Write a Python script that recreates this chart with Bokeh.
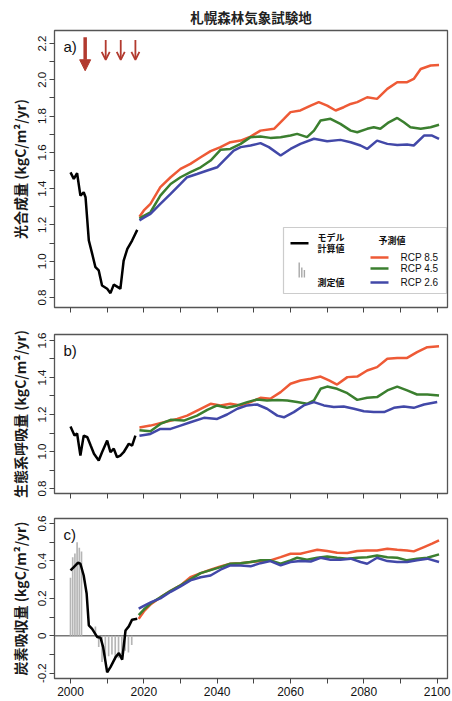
from bokeh.plotting import figure
from bokeh.layouts import column
from bokeh.models import (Range1d, FixedTicker, PrintfTickFormatter, Span, Label,
                          BoxAnnotation, Arrow, NormalHead, OpenHead)
from bokeh.embed import file_html
from bokeh.resources import INLINE

TITLE = "札幌森林気象試験地"
YLAB_A = "光合成量 (kgC/m²/yr)"
YLAB_B = "生態系呼吸量 (kgC/m²/yr)"
YLAB_C = "炭素吸収量 (kgC/m²/yr)"

X_TICKS = [2000, 2020, 2040, 2060, 2080, 2100]
X_MINOR = [2010, 2030, 2050, 2070, 2090]
X_ALL = [2000, 2010, 2020, 2030, 2040, 2050, 2060, 2070, 2080, 2090, 2100]

# ---- a) GPP -------------------------------------------------------------
gpp_model_x = [2000.0, 2000.9, 2001.8, 2002.7, 2003.6, 2004.1, 2005.0, 2005.9, 2006.8, 2007.7,
               2008.6, 2010.0, 2010.9, 2011.8, 2012.7, 2013.6, 2014.5, 2015.5, 2016.8, 2018.2]
gpp_model = [1.49, 1.454, 1.485, 1.362, 1.38, 1.353, 1.114, 1.042, 0.967, 0.949,
             0.866, 0.848, 0.824, 0.871, 0.86, 0.848, 1.004, 1.068, 1.114, 1.173]

gpp85_x = [2018.8, 2020.0, 2021.8, 2024.5, 2027.3, 2030.0, 2032.7, 2035.5, 2038.2, 2040.9, 2043.6,
           2046.4, 2049.1, 2051.8, 2055.5, 2058.2, 2060.0, 2062.7, 2065.5, 2067.7, 2070.0, 2072.3,
           2074.5, 2076.4, 2078.2, 2080.9, 2083.6, 2086.4, 2089.1, 2091.8, 2093.6, 2095.5, 2098.2, 2100.5]
gpp85 = [1.245, 1.28, 1.316, 1.408, 1.463, 1.509, 1.537, 1.573, 1.607, 1.629, 1.656,
         1.665, 1.687, 1.720, 1.730, 1.785, 1.822, 1.831, 1.858, 1.877, 1.858, 1.831,
         1.849, 1.867, 1.877, 1.904, 1.895, 1.950, 1.987, 1.987, 2.005, 2.060, 2.079, 2.082]

gpp45_x = [2018.8, 2020.0, 2021.8, 2024.5, 2027.3, 2030.0, 2032.7, 2035.5, 2038.2, 2040.9, 2043.6,
           2046.4, 2049.1, 2051.8, 2054.5, 2057.3, 2060.0, 2061.8, 2064.5, 2066.4, 2068.2, 2070.9,
           2073.6, 2076.4, 2078.2, 2080.9, 2082.7, 2084.5, 2086.8, 2089.1, 2090.9, 2092.7, 2095.5,
           2098.2, 2100.5]
gpp45 = [1.235, 1.25, 1.270, 1.362, 1.426, 1.463, 1.491, 1.518, 1.555, 1.614, 1.619,
         1.647, 1.684, 1.687, 1.680, 1.684, 1.693, 1.702, 1.684, 1.720, 1.776, 1.785,
         1.757, 1.720, 1.711, 1.730, 1.739, 1.730, 1.766, 1.790, 1.766, 1.739, 1.730,
         1.739, 1.752]

gpp26_x = [2018.8, 2020.0, 2021.8, 2024.5, 2027.3, 2030.0, 2031.8, 2034.5, 2037.3, 2040.0, 2041.8,
           2044.5, 2046.4, 2049.1, 2051.8, 2054.1, 2057.3, 2060.0, 2062.7, 2066.4, 2070.0, 2073.6,
           2076.4, 2079.1, 2080.9, 2083.6, 2086.4, 2089.1, 2091.8, 2093.6, 2096.4, 2098.6, 2100.5]
gpp26 = [1.225, 1.24, 1.261, 1.316, 1.371, 1.426, 1.463, 1.481, 1.500, 1.518, 1.555,
         1.610, 1.629, 1.638, 1.651, 1.629, 1.583, 1.619, 1.647, 1.675, 1.662, 1.669,
         1.656, 1.638, 1.619, 1.665, 1.647, 1.641, 1.643, 1.638, 1.693, 1.693, 1.675]

# ---- b) ecosystem respiration -------------------------------------------
re_model_x = [2000.0, 2001.1, 2001.8, 2002.7, 2003.6, 2004.6, 2005.5, 2006.4, 2007.7, 2008.6,
              2010.0, 2010.9, 2011.8, 2012.7, 2013.6, 2014.5, 2015.9, 2016.8, 2017.7]
re_model = [1.135, 1.086, 1.097, 0.978, 1.086, 1.077, 1.032, 0.988, 0.951, 0.996,
            1.059, 0.996, 1.015, 0.969, 0.978, 0.996, 1.042, 1.032, 1.086]

re85_x = [2018.8, 2021.8, 2025.5, 2029.1, 2031.8, 2035.5, 2038.2, 2040.9, 2043.6, 2046.4, 2049.1,
          2051.8, 2054.5, 2057.3, 2060.0, 2062.7, 2065.5, 2068.2, 2070.5, 2072.7, 2075.5, 2078.2,
          2080.9, 2083.6, 2086.4, 2089.1, 2091.8, 2094.5, 2097.3, 2100.5]
re85 = [1.13, 1.140, 1.158, 1.176, 1.194, 1.231, 1.258, 1.249, 1.258, 1.249, 1.267,
        1.290, 1.285, 1.321, 1.366, 1.384, 1.393, 1.405, 1.384, 1.362, 1.402, 1.405,
        1.438, 1.456, 1.501, 1.506, 1.506, 1.537, 1.564, 1.569]

re45_x = [2018.8, 2021.8, 2024.5, 2027.3, 2030.9, 2034.5, 2037.3, 2040.0, 2042.7, 2045.5, 2048.2,
          2050.9, 2053.6, 2056.4, 2059.1, 2061.8, 2064.5, 2066.4, 2068.2, 2070.0, 2072.7, 2075.5,
          2078.2, 2080.9, 2083.6, 2086.4, 2089.1, 2091.8, 2094.5, 2097.3, 2100.5]
re45 = [1.115, 1.110, 1.149, 1.171, 1.167, 1.194, 1.225, 1.249, 1.236, 1.249, 1.267,
        1.281, 1.276, 1.279, 1.276, 1.267, 1.258, 1.276, 1.339, 1.351, 1.339, 1.315,
        1.279, 1.290, 1.294, 1.330, 1.351, 1.330, 1.308, 1.308, 1.303]

re26_x = [2018.8, 2021.8, 2024.5, 2027.3, 2030.0, 2032.7, 2036.4, 2040.0, 2042.7, 2045.5, 2048.2,
          2050.9, 2053.6, 2056.4, 2058.2, 2060.9, 2063.6, 2066.4, 2069.1, 2071.8, 2074.5, 2077.3,
          2080.0, 2082.7, 2085.5, 2088.2, 2090.9, 2093.6, 2096.4, 2100.0]
re26 = [1.085, 1.095, 1.122, 1.122, 1.140, 1.158, 1.182, 1.176, 1.200, 1.231, 1.249,
        1.254, 1.231, 1.194, 1.185, 1.213, 1.249, 1.267, 1.249, 1.240, 1.243, 1.231,
        1.218, 1.213, 1.213, 1.236, 1.243, 1.236, 1.254, 1.267]

# ---- c) net carbon uptake -----------------------------------------------
nep_obs_x = [2000.0, 2000.6, 2001.2, 2001.8, 2002.4, 2003.0, 2006.8, 2007.7, 2008.6, 2009.5,
             2010.4, 2011.3, 2012.2, 2013.1, 2014.0, 2014.9, 2015.8, 2016.7]
nep_obs = [0.31, 0.42, 0.44, 0.50, 0.47, 0.45, 0.05, -0.06, -0.14, -0.12,
           -0.11, -0.10, -0.13, -0.12, -0.10, -0.08, -0.09, -0.05]

nep_model_x = [2000.0, 2000.9, 2002.0, 2002.7, 2003.6, 2004.4, 2005.0, 2005.9, 2007.3, 2008.2,
               2008.9, 2010.0, 2010.9, 2012.3, 2013.2, 2014.1, 2015.0, 2015.9, 2016.8, 2018.2]
nep_model = [0.349, 0.367, 0.39, 0.385, 0.322, 0.226, 0.055, 0.037, -0.007, -0.011,
             -0.061, -0.195, -0.168, -0.114, -0.093, -0.128, 0.028, 0.05, 0.086, 0.091]

nep85_x = [2018.6, 2020.0, 2022.0, 2024.5, 2027.3, 2030.0, 2032.7, 2035.5, 2038.2, 2040.9, 2043.6,
           2046.4, 2049.1, 2051.8, 2054.5, 2057.3, 2060.0, 2062.7, 2064.5, 2067.3, 2070.0, 2072.7,
           2075.5, 2078.2, 2080.9, 2083.6, 2086.4, 2089.1, 2091.8, 2093.6, 2096.4, 2098.6, 2100.5]
nep85 = [0.09, 0.13, 0.17, 0.205, 0.24, 0.269, 0.313, 0.335, 0.353, 0.371, 0.385,
         0.388, 0.394, 0.399, 0.403, 0.420, 0.438, 0.438, 0.447, 0.460, 0.453, 0.444,
         0.442, 0.453, 0.456, 0.456, 0.465, 0.460, 0.456, 0.451, 0.474, 0.492, 0.510]

nep45_x = [2018.6, 2020.0, 2022.0, 2024.5, 2027.3, 2030.0, 2035.5, 2040.9, 2043.6, 2046.4, 2049.1,
           2051.8, 2054.5, 2057.3, 2060.0, 2061.8, 2064.5, 2067.3, 2070.0, 2072.7, 2075.5, 2078.2,
           2080.9, 2083.6, 2086.4, 2089.1, 2091.8, 2094.5, 2097.3, 2100.5]
nep45 = [0.11, 0.14, 0.175, 0.205, 0.24, 0.269, 0.335, 0.367, 0.385, 0.388, 0.394,
         0.403, 0.403, 0.385, 0.403, 0.417, 0.406, 0.417, 0.424, 0.417, 0.412, 0.417,
         0.420, 0.429, 0.420, 0.417, 0.403, 0.412, 0.417, 0.435]

nep26_x = [2018.6, 2020.0, 2022.0, 2024.5, 2027.3, 2030.0, 2032.7, 2035.5, 2038.2, 2040.9, 2043.6,
           2046.4, 2049.1, 2051.8, 2054.5, 2057.3, 2060.0, 2062.7, 2065.5, 2068.2, 2070.9, 2073.6,
           2076.4, 2079.1, 2080.9, 2083.6, 2086.4, 2089.1, 2091.8, 2094.5, 2097.3, 2100.5]
nep26 = [0.145, 0.16, 0.18, 0.20, 0.235, 0.264, 0.296, 0.313, 0.322, 0.353, 0.376,
         0.376, 0.371, 0.388, 0.399, 0.376, 0.394, 0.399, 0.397, 0.417, 0.406, 0.406,
         0.412, 0.394, 0.385, 0.417, 0.399, 0.394, 0.394, 0.403, 0.412, 0.394]

# disturbance arrows (years)
big_arrow_years = [2004.0]
small_arrow_years = [2009.6, 2013.7, 2017.7]

LEGEND_SCEN = ["RCP 8.5", "RCP 4.5", "RCP 2.6"]

C85 = "#ee5a36"
C45 = "#3b7f2f"
C26 = "#4248a8"
CARROW = "#b23a2f"
CBAR = "#b5b5b5"
FRAME = "#555555"

FW = 393
PXY = 3.667
XR = (2000 - 16 / PXY, 2000 - 16 / PXY + FW / PXY)
JP = "Noto Sans CJK JP"
LAT = "Liberation Sans"


def make_fig(fh, yr, top, bottom, yticks, yminor, ylabel, xlabels, fmt_over=None, title=None):
    kw = {}
    if title:
        kw["title"] = title
    p = figure(frame_width=FW, frame_height=fh, x_range=Range1d(*XR), y_range=Range1d(*yr),
               output_backend="svg", toolbar_location=None,
               min_border_left=54, min_border_right=5,
               min_border_top=top, min_border_bottom=bottom, **kw)
    p.xgrid.visible = False
    p.ygrid.visible = False
    p.outline_line_color = FRAME
    p.outline_line_width = 1.3
    if xlabels:
        p.xaxis.ticker = FixedTicker(ticks=X_TICKS, minor_ticks=X_MINOR)
    else:
        p.xaxis.ticker = FixedTicker(ticks=[], minor_ticks=X_ALL)
    p.yaxis.ticker = FixedTicker(ticks=yticks, minor_ticks=yminor)
    for ax in (p.xaxis[0], p.yaxis[0]):
        ax.axis_line_color = None
        ax.major_tick_line_color = "#444444"
        ax.minor_tick_line_color = "#444444"
        ax.major_tick_out = 5
        ax.major_tick_in = 0
        ax.minor_tick_out = 5
        ax.minor_tick_in = 0
        ax.major_label_text_font = LAT
        ax.major_label_text_color = "#111111"
    p.xaxis.major_label_text_font_size = "12px"
    p.yaxis.major_label_text_font_size = "11.5px"
    p.xaxis.major_label_standoff = 3
    p.yaxis.major_label_orientation = "vertical"
    p.yaxis.major_label_standoff = 3
    p.yaxis.formatter = PrintfTickFormatter(format="%.1f")
    if fmt_over:
        p.yaxis.major_label_overrides = fmt_over
    p.yaxis.axis_label = ylabel
    p.yaxis.axis_label_text_font = JP
    p.yaxis.axis_label_text_font_size = "14px"
    p.yaxis.axis_label_text_font_style = "bold"
    p.yaxis.axis_label_text_color = "#1a1a1a"
    p.yaxis.axis_label_standoff = 6
    return p


def panel_letter(p, txt, yr):
    p.add_layout(Label(x=XR[0], y=yr[1], text=txt, x_offset=9, y_offset=-7,
                       text_baseline="top", text_font=LAT, text_font_size="15px",
                       text_color="#111111"))


# ---------------- a ----------------
YA = (0.7449, 2.272)
pa = make_fig(277, YA, 30, 13,
              [0.8, 1.0, 1.2, 1.4, 1.6, 1.8, 2.0, 2.2],
              [0.9, 1.1, 1.3, 1.5, 1.7, 1.9, 2.1], YLAB_A, False, title=TITLE)
pa.title.align = "center"
pa.title.text_font = JP
pa.title.text_font_size = "13.5px"
pa.title.text_font_style = "bold"
pa.title.text_color = "#222222"
pa.title.standoff = 7

pa.line(gpp85_x, gpp85, line_color=C85, line_width=2.5)
pa.line(gpp45_x, gpp45, line_color=C45, line_width=2.5)
pa.line(gpp26_x, gpp26, line_color=C26, line_width=2.5)
pa.line(gpp_model_x, gpp_model, line_color="black", line_width=2.5)
panel_letter(pa, "a)", YA)

for yv in big_arrow_years:
    pa.add_layout(Arrow(x_start=yv, y_start=2.235, x_end=yv, y_end=2.05,
                        line_color=CARROW, line_width=3.5,
                        end=NormalHead(size=11, fill_color=CARROW, line_color=CARROW)))
for yv in small_arrow_years:
    pa.add_layout(Arrow(x_start=yv, y_start=2.22, x_end=yv, y_end=2.11,
                        line_color=CARROW, line_width=1.8,
                        end=OpenHead(size=8, line_color=CARROW, line_width=1.8)))


# legend (screen units relative to frame, y from bottom)
def sbox(l, r, b, t, **kw):
    return BoxAnnotation(left=l, right=r, bottom=b, top=t, left_units="screen",
                         right_units="screen", bottom_units="screen", top_units="screen", **kw)


pa.add_layout(sbox(229, 392, 14, 80, fill_alpha=0, line_color=FRAME, line_width=1.2))
pa.add_layout(sbox(236, 254, 63, 65.5, fill_color="black", fill_alpha=1, line_color=None))
for xl, ht in [(244, 15), (246.6, 10), (249.2, 7.5)]:
    pa.add_layout(sbox(xl, xl + 1.4, 30, 30 + ht, fill_color="#a8a8a8", fill_alpha=1, line_color=None))


def stext(x, y, t, font, size, style="bold"):
    pa.add_layout(Label(x=x, y=y, x_units="screen", y_units="screen", text=t,
                        text_font=font, text_font_size=size, text_font_style=style,
                        text_baseline="middle", text_align="left", text_color="#111111"))


stext(263, 70, "モデル", JP, "9px")
stext(263, 59, "計算値", JP, "9px")
stext(263, 25, "測定値", JP, "9px")
stext(324, 67, "予測値", JP, "9px")
for (yy, col, lab) in zip([50, 39, 25], [C85, C45, C26], LEGEND_SCEN):
    pa.add_layout(sbox(316, 334, yy - 1.25, yy + 1.25, fill_color=col, fill_alpha=1, line_color=None))
    stext(346, yy, lab, LAT, "10px", "normal")

# ---------------- b ----------------
YB = (0.773, 1.6324)
pb = make_fig(159, YB, 14, 12, [0.8, 1.0, 1.2, 1.4, 1.6], [0.9, 1.1, 1.3, 1.5], YLAB_B, False)
pb.line(re85_x, re85, line_color=C85, line_width=2.5)
pb.line(re45_x, re45, line_color=C45, line_width=2.5)
pb.line(re26_x, re26, line_color=C26, line_width=2.5)
pb.line(re_model_x, re_model, line_color="black", line_width=2.5)
panel_letter(pb, "b)", YB)

# ---------------- c ----------------
YC = (-0.2285, 0.6267)
pc = make_fig(160, YC, 13, 22, [-0.2, 0, 0.2, 0.4, 0.6], [-0.1, 0.1, 0.3, 0.5], YLAB_C, True,
              fmt_over={0: "0"})
pc.vbar(x=nep_obs_x, top=nep_obs, bottom=0, width=0.45, fill_color=CBAR, line_color=None)
pc.add_layout(Span(location=0, dimension="width", line_color="#777777", line_width=1.3,
                   level="underlay"))
pc.line(nep85_x, nep85, line_color=C85, line_width=2.5)
pc.line(nep45_x, nep45, line_color=C45, line_width=2.5)
pc.line(nep26_x, nep26, line_color=C26, line_width=2.5)
pc.line(nep_model_x, nep_model, line_color="black", line_width=2.5)
panel_letter(pc, "c)", YC)

layout = column(pa, pb, pc, spacing=0)
open("out.html", "w").write(file_html(layout, INLINE))
